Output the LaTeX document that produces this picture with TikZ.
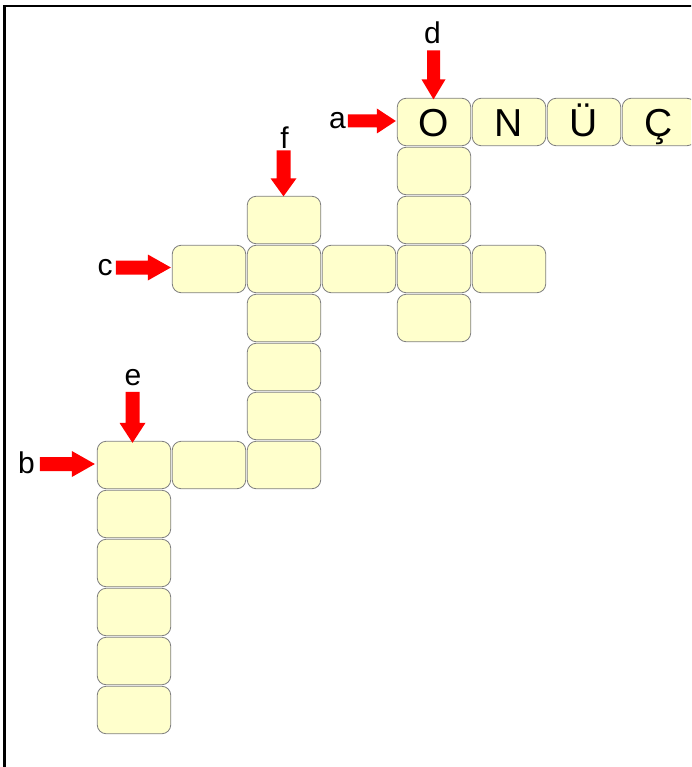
\documentclass[tikz,border=0pt]{standalone}
\usepackage{fontspec}
\setmainfont{Liberation Sans}
\definecolor{cellfill}{HTML}{FFFFCC}
\definecolor{cellline}{HTML}{808080}
\newcommand\harrowfill[5]{% tip, L, H, W, S  (points right)
  \fill[red] (#1) -- ++({-#3},{#4/2}) -- ++(0,{-(#4-#5)/2}) -- ++({-(#2-#3)},0) -- ++(0,{-#5}) -- ++({#2-#3},0) -- ++(0,{-(#4-#5)/2}) -- cycle;}
\newcommand\varrowfill[5]{% tip, L, H, W, S  (points down)
  \fill[red] (#1) -- ++({#4/2},{-#3}) -- ++({-(#4-#5)/2},0) -- ++(0,{-(#2-#3)}) -- ++({-#5},0) -- ++(0,{#2-#3}) -- ++({-(#4-#5)/2},0) -- cycle;}
\begin{document}
\begin{tikzpicture}[x=1pt,y=-1pt,
  cell/.style={draw=cellline,fill=cellfill,line width=0.8pt,rounded corners=9pt,
    minimum width=73.5pt,minimum height=47.5pt,inner sep=0pt,text height=30pt,text depth=0pt,
    font=\fontsize{39}{39}\selectfont},
  lab/.style={anchor=base,inner sep=0pt,font=\fontsize{30}{30}\selectfont}]
\useasboundingbox (0,0) rectangle (691,767);
\clip (0,0) rectangle (691,767);
\fill[white] (0,0) rectangle (691,767);
\draw[line width=2.3pt] (4.5,800) -- (4.5,6.2) -- (720,6.2);
% cells: column c center x = 134+75c, row r center y = 122+49r
\node[cell] (c4r0) at (434,122) {O};
\node[cell] (c5r0) at (509,122) {N};
\node[cell] (c6r0) at (584,122) {Ü};
\node[cell] (c7r0) at (659,122) {Ç};
\foreach \c/\r in {4/1,4/2,4/3,4/4,1/3,2/3,3/3,5/3,2/2,2/4,2/5,2/6,2/7,0/7,1/7,0/8,0/9,0/10,0/11,0/12}
  \node[cell] (c\c r\r) at ({134+75*\c},{122+49*\r}) {};
% labels
\node[lab] (la) at (337.5,128.5) {a};
\node[lab] (lb) at (26.5,473.5) {b};
\node[lab] (lc) at (105,275.5) {c};
\node[lab] (ld) at (432.5,44) {d};
\node[lab] (le) at (133,385.5) {e};
\node[lab] (lf) at (284.5,148.5) {f};
% arrows
\harrowfill{[xshift=-1pt,yshift=1pt]c4r0.west}{48}{19}{25}{13}
\harrowfill{[xshift=-1pt,yshift=1.5pt]c1r3.west}{55}{23}{26}{14}
\harrowfill{[xshift=-2pt,yshift=1pt]c0r7.west}{55}{23}{26}{14}
\varrowfill{[xshift=-0.5pt,yshift=-1.5pt]c4r0.north}{49}{20}{24}{13}
\varrowfill{[xshift=-0.5pt,yshift=-0.5pt]c2r2.north}{46}{18}{26}{14}
\varrowfill{[xshift=-1.5pt,yshift=-2pt]c0r7.north}{51}{20}{26}{14}
\end{tikzpicture}
\end{document}
